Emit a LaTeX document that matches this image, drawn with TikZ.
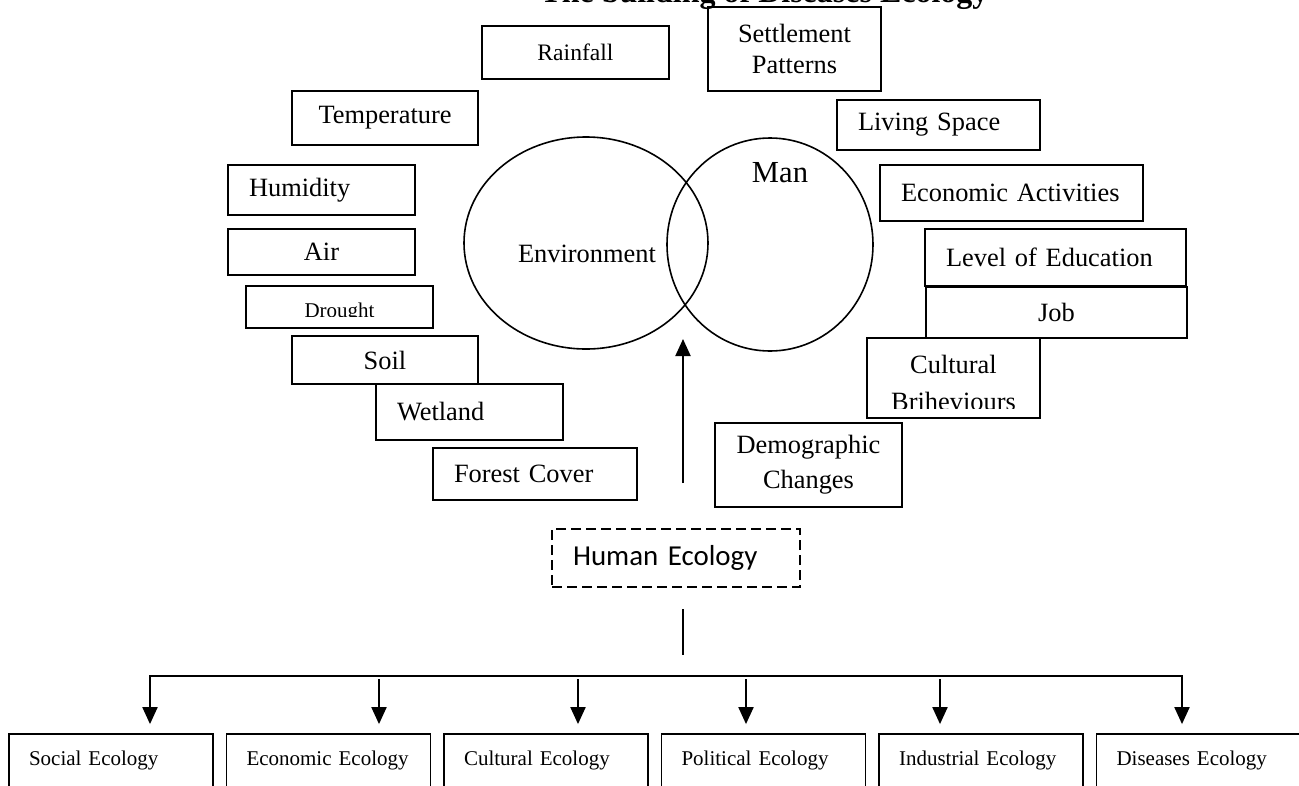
\documentclass[tikz,border=0pt]{standalone}
\usepackage{fontspec}
\setmainfont{Liberation Serif}
\newfontfamily\calibri{Carlito}
\usetikzlibrary{shapes.geometric, arrows.meta}

\begin{document}
\begin{tikzpicture}[x=1pt, y=-1pt, node distance={217.5pt}, >={Triangle[width=15pt, length=17pt]},
  boxc/.style = {draw, line width=1.8pt, inner sep=0pt, align=center, font=\fontsize{26.4}{31}\selectfont},
  boxl/.style = {boxc, inner xsep=21pt, align=left},
  ring/.style = {draw, ellipse, line width=1.6pt, inner sep=0pt},
  eco/.style = {draw, line width=1.8pt, inner xsep=20pt, inner ysep=9pt, text width=164pt, text height=22pt, text depth=50pt, align=left, font=\fontsize{21}{24}\selectfont},
  link/.style = {line width=2pt}]
\clip (0,0) rectangle (1299,785);
\node[font=\bfseries\fontsize{32}{36}\selectfont, anchor=base east] (title) at (992,2) {The building of Diseases Ecology};
\node[boxc, minimum width=187pt, minimum height=53pt, font=\fontsize{23.6}{27}\selectfont] (rain) at (575.5,52.5) {Rainfall};
\node[boxc, minimum width=186pt, minimum height=54pt] (temp) at (385,118) {Temperature};
\node[boxl, text width=145pt, minimum height=50pt] (hum) at (321.5,190) {Humidity};
\node[boxc, minimum width=187pt, minimum height=46pt] (air) at (321.5,252) {Air};
\node[boxc, minimum width=187pt, minimum height=42pt] (drt) at (339.5,307) {};
\begin{scope}
\clip (246,286) rectangle (433,316);
\node[font=\fontsize{21}{24}\selectfont, anchor=base] (drtlbl) at (339.5,317) {Drought};
\end{scope}
\node[boxc, minimum width=186pt, minimum height=48pt] (soil) at (385,360) {Soil};
\node[boxl, text width=145pt, minimum height=56pt] (wet) at (469.5,412) {Wetland};
\node[boxl, text width=162pt, minimum height=52pt] (forest) at (535,474) {Forest Cover};
\node[boxc, minimum width=173pt, minimum height=84pt] (settle) at (794.5,49) {Settlement\\Patterns};
\node[boxl, text width=161pt, minimum height=50pt] (live) at (938.5,125) {Living Space};
\node[boxl, text width=221pt, minimum height=56pt] (act) at (1011.5,193) {Economic Activities};
\node[boxl, text width=219pt, minimum height=57pt] (edu) at (1055.5,257.5) {Level of Education};
\node[boxc, minimum width=261pt, minimum height=51pt] (job) at (1056.5,312.5) {Job};
\node[boxc, minimum width=173pt, minimum height=80pt] (cult) at (953.5,378) {};
\begin{scope}
\clip (867,338) rectangle (1040,408);
\node[align=center, font=\fontsize{26.4}{37}\selectfont] (cultlbl) at (953.5,382.5) {Cultural\\Briheviours};
\end{scope}
\node[boxc, minimum width=187pt, minimum height=84pt, font=\fontsize{26.4}{35}\selectfont] (demo) at (808.5,465) {Demographic\\Changes};
\node[ring, minimum width=244pt, minimum height=212pt] (env) at (586,243) {};
\node[ring, minimum width=206pt, minimum height=213pt] (man) at (770,244.5) {};
\node[font=\fontsize{26.4}{31}\selectfont] (envlbl) at (587,254) {Environment};
\node[font=\fontsize{30.6}{34}\selectfont] (manlbl) at (780,173) {Man};
\coordinate (foot) at (683,483);
\coordinate (tip) at (683,339);
\draw[link, ->] (foot) -- (tip);
\node[draw, dash pattern=on 10pt off 5pt, line width=2pt, inner xsep=21pt, inner ysep=0pt, text width=206pt, minimum height=58pt, align=left, font=\calibri\fontsize{28.9}{34}\selectfont] (he) at (676,558) {Human Ecology};
\coordinate (stem) at (683,609);
\draw[line width=1.5pt] (stem) -- ++(0,46);
\node[eco] (soc) at (111,779) {Social Ecology};
\node[eco, right of=soc] (ecn) {Economic Ecology};
\node[eco, right of=ecn] (cul) {Cultural Ecology};
\node[eco, right of=cul] (pol) {Political Ecology};
\node[eco, right of=pol] (ind) {Industrial Ecology};
\node[eco, right of=ind] (dis) {Diseases Ecology};
\coordinate (busl) at (150,676);
\coordinate (busr) at (1182,676);
\draw[link, <->, shorten <=9pt, shorten >=9pt] (busl |- soc.north) -- (busl) -- (busr) -- (busr |- dis.north);
\foreach \x/\n in {379/ecn, 578/cul, 746/pol, 940/ind}
  \draw[link, ->, shorten >=9pt] (\x,679) -- (\x,679 |- \n.north);
\end{tikzpicture}
\end{document}
